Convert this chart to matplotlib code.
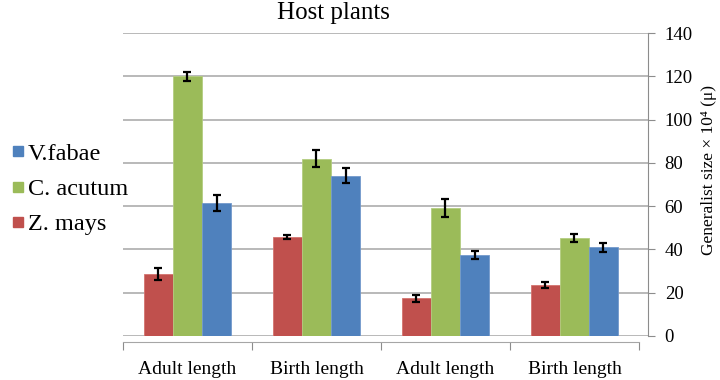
import numpy as np
import matplotlib
matplotlib.use("Agg")
import matplotlib.pyplot as plt
from matplotlib.lines import Line2D

categories = ["Adult length", "Birth length", "Adult length", "Birth length"]
series_names = ["Z. mays", "C. acutum", "V.fabae"]
z_mays = [28.5, 45.7, 17.4, 23.6]
z_mays_err = [2.7, 0.8, 1.6, 1.2]
c_acutum = [120, 82, 59, 45.3]
c_acutum_err = [2.0, 4.1, 4.2, 1.8]
v_fabae = [61.5, 74, 37.5, 41]
v_fabae_err = [3.7, 3.5, 1.8, 2.2]
y_ticks = [0, 20, 40, 60, 80, 100, 120, 140]

colors = ["#C0504D", "#9BBB59", "#4F81BD"]
edge = ["#D4736F", "#B3CD80", "#7399CC"]

plt.rcParams['font.family'] = ['Liberation Serif', 'DejaVu Serif']

fig = plt.figure(figsize=(7.2, 3.8), dpi=100)
ax = fig.add_axes([123/720, 1-336/380, (648-123)/720, (336-33)/380])

x = np.arange(len(categories))
w = 0.225
vals = [z_mays, c_acutum, v_fabae]
errs = [z_mays_err, c_acutum_err, v_fabae_err]
for i in range(3):
    ax.bar(x + (i-1)*w, vals[i], w, color=colors[i], edgecolor=edge[i], linewidth=0.6,
           zorder=3)
    ax.errorbar(x + (i-1)*w, vals[i], yerr=errs[i], fmt='none', ecolor='black',
                elinewidth=1.6, capsize=3, capthick=1.6, zorder=4)

ax.set_xlim(-0.5, 3.57)
ax.set_ylim(0, 140)
ax.set_yticks(y_ticks)
ax.yaxis.tick_right()
ax.grid(axis='y', color='#a6a6a6', linewidth=1.1, zorder=0)
ax.tick_params(axis='y', direction='out', length=5, color='#8c8c8c', labelsize=13.5, pad=7)

# category axis: boundary ticks, labels centred on groups
ax.set_xticks([-0.5, 0.5, 1.5, 2.5, 3.5])
ax.set_xticklabels([])
ax.set_xticks(x, minor=True)
ax.set_xticklabels(categories, minor=True)
ax.tick_params(axis='x', which='major', direction='out', length=6, color='#8c8c8c')
ax.tick_params(axis='x', which='minor', length=0, pad=14, labelsize=14)

for s in ['left', 'top']:
    ax.spines[s].set_visible(False)
ax.spines['right'].set_color('#8c8c8c')
ax.spines['bottom'].set_color('#a6a6a6')
ax.spines['bottom'].set_position(('outward', 4))
ax.spines['bottom'].set_bounds(-0.5, 3.5)

fig.text(333/720, 1-13/380, "Host plants", ha='center', va='center', fontsize=18)
fig.text(709/720, 1-170/380, "Generalist size × 10⁴ (μ)", rotation=90,
         ha='center', va='center', fontsize=12.5)

handles = [Line2D([], [], marker='s', linestyle='none', markersize=6.5,
                  color=colors[i]) for i in [2, 1, 0]]
labels = [series_names[i] for i in [2, 1, 0]]
fig.legend(handles, labels, loc='center left', bbox_to_anchor=(11/720, 1-189/380),
           frameon=False, fontsize=17.5, handlelength=0.6, handletextpad=0.1,
           labelspacing=0.55, borderaxespad=0, borderpad=0)

fig.savefig("out.png", dpi=100)
